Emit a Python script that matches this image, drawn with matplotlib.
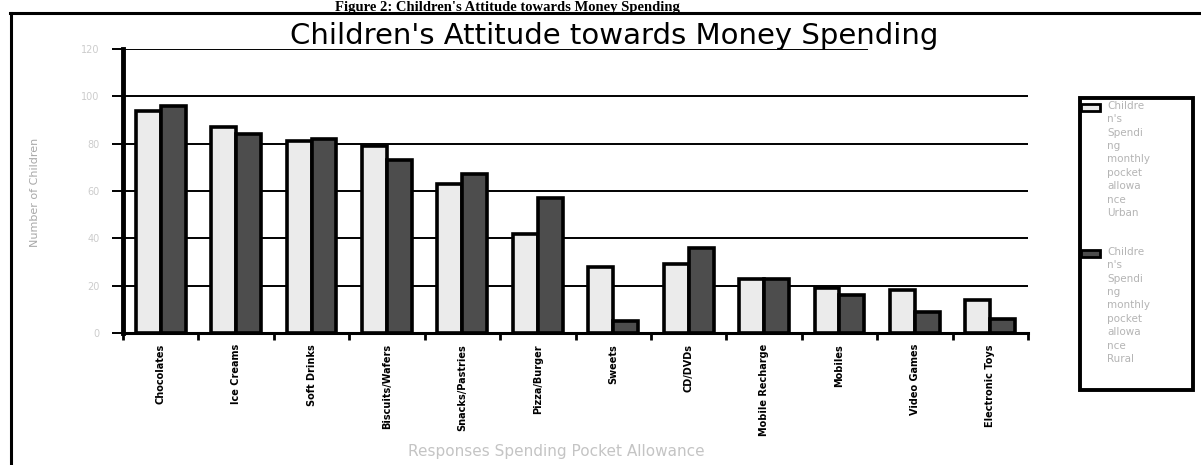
import numpy as np
import matplotlib.pyplot as plt
from matplotlib.lines import Line2D
from matplotlib.patches import Rectangle

categories = ["Chocolates", "Ice Creams", "Soft Drinks", "Biscuits/Wafers",
              "Snacks/Pastries", "Pizza/Burger", "Sweets", "CD/DVDs",
              "Mobile Recharge", "Mobiles", "Video Games", "Electronic Toys"]
urban = [94, 87, 81, 79, 63, 42, 28, 29, 23, 19, 18, 14]
rural = [96, 84, 82, 73, 67, 57, 5, 36, 23, 16, 9, 6]
yticks = [0, 20, 40, 60, 80, 100, 120]
urban_label = "Childre\nn's\nSpendi\nng\nmonthly\npocket\nallowa\nnce\nUrban"
rural_label = "Childre\nn's\nSpendi\nng\nmonthly\npocket\nallowa\nnce\nRural"
urban_color = "#ebebeb"
rural_color = "#4d4d4d"

W, H = 1201, 465
fig = plt.figure(figsize=(W / 100, H / 100), dpi=100)

def px(xp, yp):
    # pixel position (from top-left) -> figure fraction
    return xp / W, 1 - yp / H

# outer frame of the page figure
fig.add_artist(Line2D([10 / W, 1], [1 - 13 / H, 1 - 13 / H], color="black", lw=2.2,
                      transform=fig.transFigure))
fig.add_artist(Line2D([11 / W, 11 / W], [0, 1 - 13 / H], color="black", lw=2.2,
                      transform=fig.transFigure))
fig.text(*px(507, 10.5), "Figure 2: Children's Attitude towards Money Spending",
         family="Liberation Serif", weight="bold", fontsize=10.5, ha="center",
         va="baseline")

left, right, bottom, top = 123, 1028, 333, 49
ax = fig.add_axes([left / W, 1 - bottom / H, (right - left) / W, (bottom - top) / H])

x = np.arange(len(categories))
bw = 0.33
ax.bar(x - bw / 2, urban, bw, color=urban_color, edgecolor="black", linewidth=2.6,
       zorder=3)
ax.bar(x + bw / 2, rural, bw, color=rural_color, edgecolor="black", linewidth=2.6,
       zorder=3)

for v in yticks[1:-1]:
    ax.axhline(v, color="black", lw=1.4, zorder=1)
ax.axhline(120, xmax=(867 - left) / (right - left), color="black", lw=1.4, zorder=1)

ax.set_xlim(-0.5, len(categories) - 0.5)
ax.set_ylim(0, 120)
ax.set_yticks(yticks)
ax.set_yticklabels([str(v) for v in yticks], color="#cccccc", fontsize=7)
ax.tick_params(axis="y", length=8, width=1.4, pad=9, color="black")

ax.set_xticks(x)
ax.set_xticklabels(categories, rotation=90, fontsize=7, color="black",
                   weight="bold")
ax.tick_params(axis="x", which="major", length=0, pad=8)
ax.set_xticks(np.arange(-0.5, len(categories)), minor=True)
ax.tick_params(axis="x", which="minor", length=5, width=2, color="black")

for s in ["top", "right"]:
    ax.spines[s].set_visible(False)
ax.spines["left"].set_linewidth(3.5)
ax.spines["bottom"].set_linewidth(2.2)

ax.set_ylabel("Number of Children", color="#a8a8a8", fontsize=8)
ax.yaxis.set_label_coords(-0.092, (bottom - 192) / (bottom - top))
ax.set_xlabel("Responses Spending Pocket Allowance", color="#c4c4c4", fontsize=11)
ax.xaxis.set_label_coords((556 - left) / (right - left), -(451 - bottom) / (bottom - top))
ax.xaxis.label.set_va("center")

fig.text(*px(614, 36), "Children's Attitude towards Money Spending",
         fontsize=21, ha="center", va="center", color="black")

# legend box, drawn by hand so the swatches sit on the first text line
lx0, ly0, lx1, ly1 = 1080, 98, 1193, 390
fig.add_artist(Rectangle(px(lx0, ly1), (lx1 - lx0) / W, (ly1 - ly0) / H,
                         transform=fig.transFigure, facecolor="white",
                         edgecolor="black", lw=2.8))
for label, color, ty in [(urban_label, urban_color, 101), (rural_label, rural_color, 247)]:
    fig.add_artist(Rectangle(px(lx0 + 1, ty + 10), 19 / W, 7 / H,
                             transform=fig.transFigure, facecolor=color,
                             edgecolor="black", lw=2))
    fig.text(*px(1107, ty), label, fontsize=7.5, color="#b4b4b4", ha="left",
             va="top", linespacing=1.42)

fig.savefig("out.png", dpi=100)
